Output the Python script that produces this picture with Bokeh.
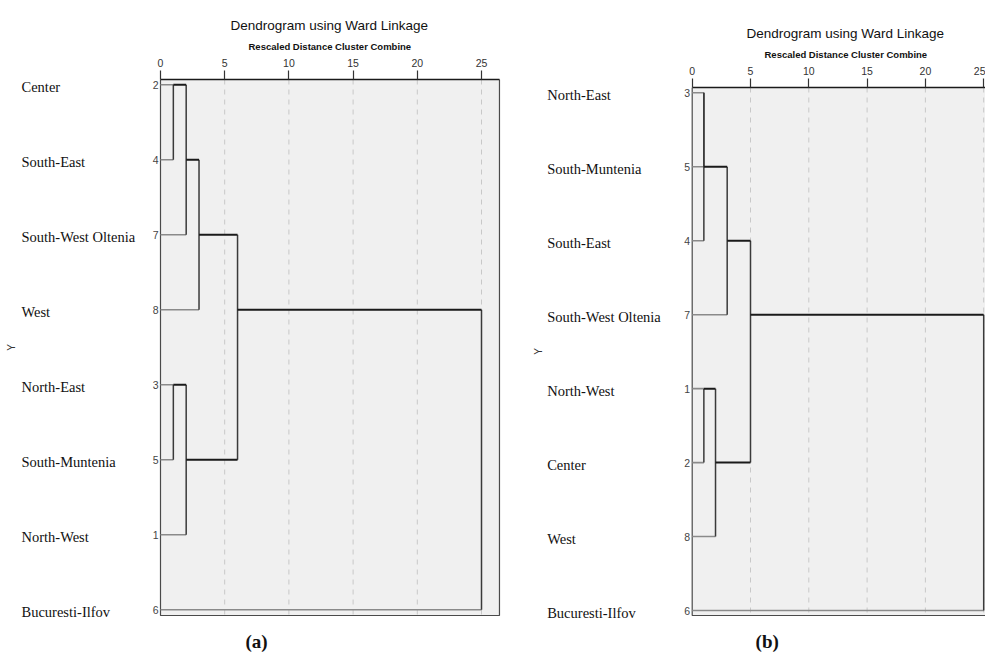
import math
from bokeh.plotting import figure
from bokeh.models import Range1d, FixedTicker, ColumnDataSource, Title, Spacer
from bokeh.layouts import row, column
from bokeh.embed import file_html
from bokeh.resources import INLINE
from bokeh.core.properties import value

# ------------------------------------------------------------------ data
TICKS = [0, 5, 10, 15, 20, 25]
GRID_TICKS = [5, 10, 15, 20, 25]
TITLE = "Dendrogram using Ward Linkage"
SUBTITLE = "Rescaled Distance Cluster Combine"
AXIS_TITLE = "Y"

# panel (a)
A_REGIONS = ["Center", "South-East", "South-West Oltenia", "West",
             "North-East", "South-Muntenia", "North-West", "Bucuresti-Ilfov"]
A_CASES = [2, 4, 7, 8, 3, 5, 1, 6]
A_LEFT = [2, "m1", "m2", 3, "m4", "m3", "m6"]
A_RIGHT = [4, 7, 8, 5, 1, "m5", 6]
A_DIST = [1, 2, 3, 1, 2, 6, 25]

# panel (b)
B_REGIONS = ["North-East", "South-Muntenia", "South-East", "South-West Oltenia",
             "North-West", "Center", "West", "Bucuresti-Ilfov"]
B_CASES = [3, 5, 4, 7, 1, 2, 8, 6]
B_LEFT = [3, "m1", "m2", 1, "m4", "m3", "m6"]
B_RIGHT = [5, 4, 7, 2, 8, "m5", 6]
B_DIST = [1, 1, 3, 1, 2, 5, 25]

SCALE_MAX = 26.4          # right edge of the rescaled-distance box

# ------------------------------------------------------------------ style
NARROW = "Liberation Sans Narrow, Liberation Sans, sans-serif"
SANS = "Liberation Sans"
SERIF = "Liberation Serif"


def dendro_segments(cases, left, right, dist):
    rows = {c: i + 1 for i, c in enumerate(cases)}
    pos = {c: (rows[c], 0.0) for c in cases}
    leaf = dict(x0=[], x1=[], y=[])
    inner = dict(x0=[], x1=[], y=[])
    vert = dict(x=[], y0=[], y1=[])
    for k, (l, r, d) in enumerate(zip(left, right, dist), start=1):
        for child in (l, r):
            cr, cd = pos[child]
            tgt = leaf if isinstance(child, int) else inner
            tgt["x0"].append(cd)
            tgt["x1"].append(d)
            tgt["y"].append(cr)
        r1, r2 = pos[l][0], pos[r][0]
        vert["x"].append(d)
        vert["y0"].append(min(r1, r2))
        vert["y1"].append(max(r1, r2))
        pos[f"m{k}"] = ((r1 + r2) // 2, d)
    return leaf, inner, vert


def make_panel(regions, cases, left, right, dist, tag, *, width, height,
               zero_px, px_per_unit, row1_px, row_px, box_top_px, box_bottom_px,
               name_dx, ytitle_dx, tag_dx, title_off, sub_off):
    top_border = 79
    x0 = -zero_px / px_per_unit
    x1 = (width - zero_px) / px_per_unit

    def r(py):
        return 1 + (py - row1_px) / row_px

    y_top = r(box_top_px)
    y_bottom = r(box_top_px + (height - top_border))
    box_bottom = r(box_bottom_px)

    p = figure(width=width, height=height, title=None,
               x_range=Range1d(x0, x1), y_range=Range1d(y_bottom, y_top),
               x_axis_location="above", y_axis_location=None,
               output_backend="svg", toolbar_location=None,
               min_border=0, min_border_top=top_border,
               background_fill_color="white", border_fill_color="white",
               outline_line_color=None)
    p.grid.visible = False

    xa = p.xaxis[0]
    xa.ticker = FixedTicker(ticks=TICKS)
    xa.bounds = (0, SCALE_MAX)
    xa.axis_line_color = "#1a1a1a"
    xa.axis_line_width = 1.6
    xa.major_tick_in = 0
    xa.major_tick_out = 9
    xa.major_tick_line_color = "#333333"
    xa.major_tick_line_width = 1.2
    xa.minor_tick_line_color = None
    xa.major_label_standoff = 4
    xa.major_label_text_font = NARROW
    xa.major_label_text_font_size = "10.5px"
    xa.major_label_text_color = "#333333"

    p.add_layout(Title(text=SUBTITLE, align="left", offset=sub_off, standoff=8,
                       text_font=NARROW, text_font_style="bold",
                       text_font_size="9.5px", text_color="#111111"), "above")
    p.add_layout(Title(text=TITLE, align="left", offset=title_off, standoff=4,
                       text_font=SANS, text_font_style="normal",
                       text_font_size="13.5px", text_color="#111111"), "above")

    # box
    p.quad(left=[0], right=[SCALE_MAX], top=[y_top], bottom=[box_bottom],
           fill_color="#f0f0f0", line_color="#4a4a4a", line_width=1.2)
    # dashed grid lines
    p.segment(x0=GRID_TICKS, x1=GRID_TICKS, y0=[y_top] * len(GRID_TICKS),
              y1=[box_bottom] * len(GRID_TICKS), line_color="#c8c8c8",
              line_width=1, line_dash="5 5")

    leaf, inner, vert = dendro_segments(cases, left, right, dist)
    p.segment(x0="x0", y0="y", x1="x1", y1="y", source=ColumnDataSource(leaf),
              line_color="#8a8a8a", line_width=1.6)
    p.segment(x0="x", y0="y0", x1="x", y1="y1", source=ColumnDataSource(vert),
              line_color="#3a3a3a", line_width=1.5)
    p.segment(x0="x0", y0="y", x1="x1", y1="y", source=ColumnDataSource(inner),
              line_color="#1a1a1a", line_width=2)

    rows_idx = list(range(1, len(regions) + 1))
    src = ColumnDataSource(dict(name=regions, case=[str(c) for c in cases],
                                row=rows_idx, zero=[0] * len(regions)))
    # case numbers next to the box
    p.text(x="zero", y="row", text="case", source=src, x_offset=-2,
           text_align="right", text_baseline="middle",
           text_font=value(NARROW), text_font_size="10.5px", text_color="#444444")
    # region names
    p.text(x="zero", y="row", text="name", source=src, x_offset=name_dx, y_offset=2,
           text_align="left", text_baseline="middle",
           text_font=value(SERIF), text_font_size="14.5px", text_color="#111111")
    # axis title "Y"
    p.text(x=[0], y=[(y_top + box_bottom) / 2], text=[AXIS_TITLE], x_offset=ytitle_dx,
           angle=math.pi / 2, text_align="center", text_baseline="middle",
           text_font=value(SANS), text_font_size="10px", text_color="#333333")
    # panel tag
    p.text(x=[0], y=[box_bottom], text=[tag], x_offset=tag_dx, y_offset=26,
           text_align="center", text_baseline="middle",
           text_font=value(SERIF), text_font_style="bold",
           text_font_size="19px", text_color="#111111")
    return p


pa = make_panel(A_REGIONS, A_CASES, A_LEFT, A_RIGHT, A_DIST, "(a)",
                width=520, height=655, zero_px=160, px_per_unit=12.84,
                row1_px=84.3, row_px=75.0, box_top_px=79, box_bottom_px=615,
                name_dx=-139, ytitle_dx=-149, tag_dx=96,
                title_off=230, sub_off=248)

pb = make_panel(B_REGIONS, B_CASES, B_LEFT, B_RIGHT, B_DIST, "(b)",
                width=465, height=647, zero_px=171.7, px_per_unit=11.66,
                row1_px=92.3 - 8, row_px=73.96, box_top_px=87 - 8, box_bottom_px=615 - 8,
                name_dx=-145, ytitle_dx=-154, tag_dx=75,
                title_off=226, sub_off=244)

layout = row(pa, column(Spacer(height=8, width=465), pb))
open("out.html", "w").write(file_html(layout, INLINE))
